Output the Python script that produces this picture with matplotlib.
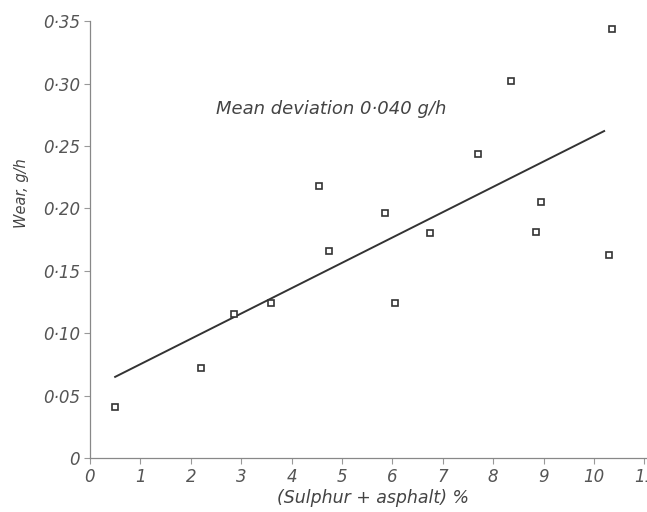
import matplotlib.pyplot as plt

# values
sa_pct = [0.5, 2.2, 2.85, 3.6, 4.55, 4.75, 5.85, 6.05, 6.75, 7.7, 8.35, 8.85, 8.95, 10.3, 10.35]
wear = [0.041, 0.072, 0.115, 0.124, 0.218, 0.166, 0.196, 0.124, 0.180, 0.244, 0.302, 0.181, 0.205, 0.163, 0.344]
fit_x = [0.5, 10.2]
fit_y = [0.065, 0.262]

x_ticks = list(range(0, 12))
y_ticks = [0, 0.05, 0.10, 0.15, 0.20, 0.25, 0.30, 0.35]
y_labels = ['0', '0·05', '0·10', '0·15', '0·20', '0·25', '0·30', '0·35']

ink = '#333333'
txt = '#444444'

fig = plt.figure(figsize=(6.47, 5.12), dpi=100)
ax = fig.add_axes([0.139, 0.1055, 0.861, 0.853])

ax.plot(fit_x, fit_y, color=ink, lw=1.4)
ax.plot(sa_pct, wear, ls='none', marker='s', ms=5, mfc='white', mec=ink, mew=1.2)

ax.text(2.5, 0.280, 'Mean deviation 0·040 g/h', fontsize=13, style='italic',
        color=txt, va='center')

ax.set_xlim(0, 11.05)
ax.set_ylim(0, 0.35)
ax.set_xticks(x_ticks)
ax.set_xticklabels([str(t) for t in x_ticks], fontsize=12, style='italic', color='#555555')
ax.set_yticks(y_ticks)
ax.set_yticklabels(y_labels, fontsize=12, style='italic', color='#555555')
ax.tick_params(direction='out', length=4, width=0.8, color='#999999', pad=3)

for s in ['top', 'right']:
    ax.spines[s].set_visible(False)
for s in ['left', 'bottom']:
    ax.spines[s].set_color('#888888')
    ax.spines[s].set_linewidth(0.9)

ax.set_xlabel('(Sulphur + asphalt) %', fontsize=12.5, style='italic', color=txt)
ax.set_ylabel('Wear, g/h', fontsize=10.5, style='italic', color=txt)
ax.xaxis.set_label_coords(0.508, -0.072)
ax.yaxis.set_label_coords(-0.11, 0.606)

fig.savefig('out.png', dpi=100)
